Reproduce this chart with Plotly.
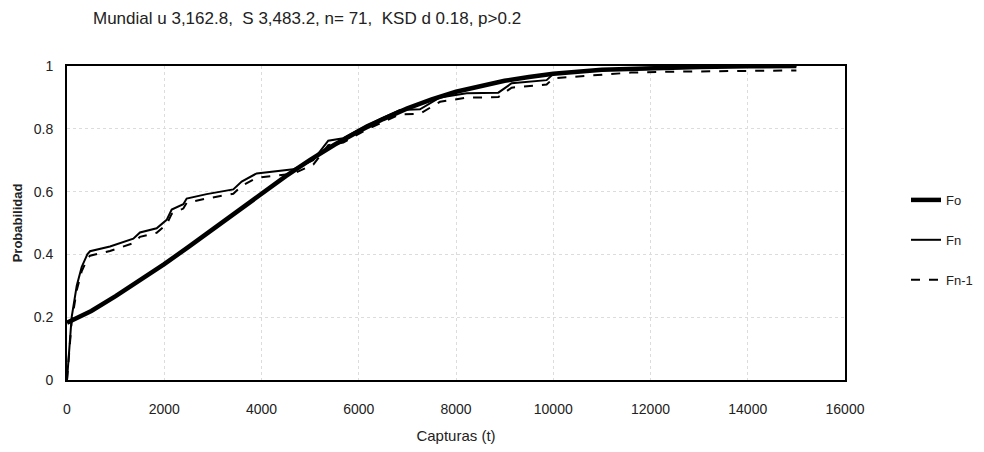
import plotly.graph_objects as go

# Fo: theoretical normal CDF
fo_x = [0, 500, 1000, 1500, 2000, 2500, 3000, 3500, 4000, 4500, 5000, 5500, 6000, 6500, 7000,
        7500, 8000, 8500, 9000, 9500, 10000, 11000, 12000, 13000, 14000, 15000]
fo_y = [0.182, 0.22, 0.267, 0.317, 0.369, 0.424, 0.481, 0.538, 0.595, 0.649, 0.701, 0.749, 0.792,
        0.831, 0.865, 0.894, 0.918, 0.937, 0.953, 0.965, 0.975, 0.988, 0.994, 0.997, 0.999, 1.0]

# Fn: empirical CDF
fn_x = [0, 96, 200, 302, 418, 473, 884, 1364, 1501, 1844, 2050, 2153, 2392, 2461, 2872, 3420,
        3592, 3900, 4653, 5064, 5373, 5682, 6163, 6848, 7259, 7671, 8219, 8870, 9144, 9864,
        10001, 10966, 11600, 12500, 13500, 15000]
fn_y = [0.0, 0.2, 0.30, 0.36, 0.40, 0.41, 0.425, 0.45, 0.47, 0.483, 0.51, 0.543, 0.56, 0.578,
        0.592, 0.607, 0.632, 0.658, 0.671, 0.70, 0.762, 0.77, 0.812, 0.86, 0.862, 0.90, 0.913,
        0.915, 0.945, 0.955, 0.975, 0.987, 0.993, 0.996, 0.998, 1.0]

# Fn-1: empirical CDF shifted one step
fn1_x = [0, 96, 200, 302, 418, 473, 884, 1364, 1501, 1844, 2050, 2153, 2392, 2461, 2872, 3420,
         3592, 3900, 4653, 5064, 5373, 5682, 6163, 6848, 7259, 7671, 8219, 8870, 9144, 9864,
         10001, 10966, 11600, 12500, 13500, 15000]
fn1_y = [0.0, 0.186, 0.286, 0.346, 0.386, 0.396, 0.411, 0.436, 0.456, 0.469, 0.496, 0.529,
         0.546, 0.564, 0.578, 0.593, 0.618, 0.644, 0.657, 0.686, 0.748, 0.756, 0.798, 0.846,
         0.848, 0.886, 0.899, 0.901, 0.931, 0.941, 0.961, 0.973, 0.979, 0.982, 0.984, 0.986]

x_ticks = [0, 2000, 4000, 6000, 8000, 10000, 12000, 14000, 16000]
y_ticks = [0, 0.2, 0.4, 0.6, 0.8, 1]

FONT = "Liberation Sans"
W = 968

fig = go.Figure()
fig.add_trace(go.Scatter(x=fo_x, y=fo_y, mode="lines", name="Fo", legendgroup="a",
                         line=dict(color="black", width=4.5)))
fig.add_trace(go.Scatter(x=fn_x, y=fn_y, mode="lines", name="Fn", legendgroup="b",
                         line=dict(color="black", width=2)))
fig.add_trace(go.Scatter(x=fn1_x, y=fn1_y, mode="lines", name="Fn-1", legendgroup="c",
                         line=dict(color="black", width=2, dash="dash")))

fig.update_layout(
    width=W, height=436,
    margin=dict(l=59, r=131, t=58, b=64),
    paper_bgcolor="white", plot_bgcolor="white",
    font=dict(family=FONT, size=14, color="#222222"),
    title=dict(text="Mundial u 3,162.8,  S 3,483.2, n= 71,  KSD d 0.18, p>0.2",
               x=85 / W, xanchor="left", y=0.977, yanchor="middle", yref="container",
               font=dict(family=FONT, size=17, color="#222222")),
    legend=dict(x=898 / W, xanchor="left", xref="container",
                y=0.468, yanchor="middle", yref="container",
                tracegroupgap=20, traceorder="grouped",
                font=dict(family=FONT, size=13, color="#222222"),
                bgcolor="rgba(0,0,0,0)", itemwidth=30),
    showlegend=True,
)
fig.update_xaxes(range=[0, 16000], tickvals=x_ticks, ticktext=[str(v) for v in x_ticks],
                 showgrid=True, gridcolor="#dcdcdc", griddash="dot", gridwidth=1,
                 showline=True, linecolor="black", linewidth=2, mirror=True,
                 zeroline=False, ticks="", ticklabelstandoff=15, automargin=False,
                 tickfont=dict(family=FONT, size=14),
                 title=dict(text="Capturas (t)", standoff=17,
                            font=dict(family=FONT, size=15, color="#222222")))
fig.update_yaxes(range=[0, 1], tickvals=y_ticks, ticktext=["0", "0.2", "0.4", "0.6", "0.8", "1"],
                 showgrid=True, gridcolor="#dcdcdc", griddash="dot", gridwidth=1,
                 showline=True, linecolor="black", linewidth=2, mirror=True,
                 zeroline=False, ticks="", ticklabelstandoff=9, automargin=False,
                 tickfont=dict(family=FONT, size=14),
                 title=dict(text="<b>Probabilidad</b>", standoff=8,
                            font=dict(family=FONT, size=13, color="#222222")))

fig.write_html("out.html")
